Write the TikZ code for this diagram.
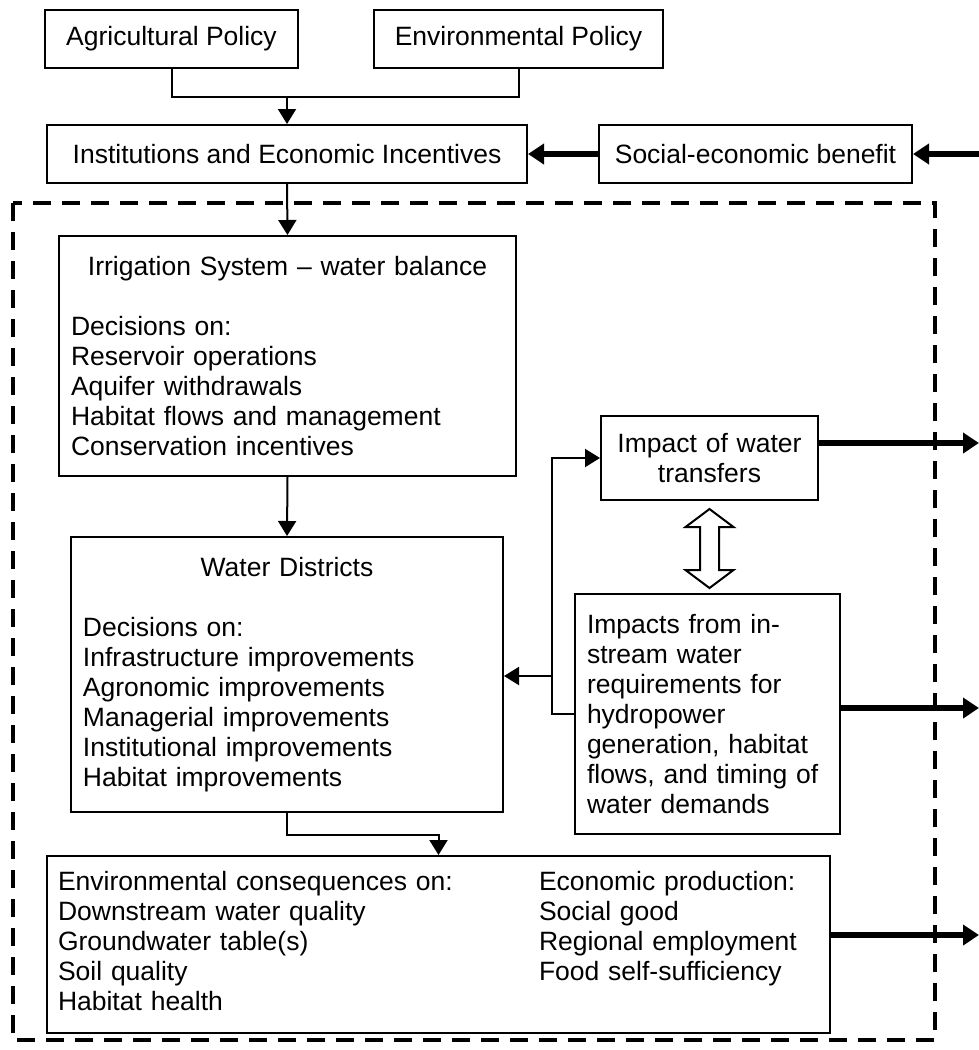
\documentclass[tikz,border=0pt]{standalone}
\usepackage{fontspec}
\setmainfont{Liberation Sans}
\usetikzlibrary{arrows.meta, calc}

\begin{document}
\begin{tikzpicture}[x=0.5pt, y=-0.5pt,
  box/.style={draw, line width=1pt, inner sep=0pt, font=\fontsize{13.25}{15}\selectfont},
  link/.style={line width=1pt, -{Triangle[length=7.5pt, width=9pt]}},
  heavy/.style={line width=3pt, -{Triangle[length=8pt, width=10pt]}}]

  \useasboundingbox (0,0) rectangle (979,1050);

  % system boundary
  \draw[line width=1.75pt, dash pattern=on 9pt off 5.5pt] (13,203) rectangle (935,1040);

  % policies and institutions
  \node[box, minimum width=126.5pt, minimum height=29pt] (agri) at (171.5,39) {Agricultural Policy};
  \node[box, minimum width=144.5pt, minimum height=29pt] (envp) at (518.5,39) {Environmental Policy};
  \node[box, minimum width=240pt, minimum height=29pt] (inst) at (287,154) {Institutions and Economic Incentives};
  \node[box, minimum width=156.5pt, minimum height=29pt] (soc) at (755.5,154) {Social-economic benefit};

  % irrigation system
  \node[box, text width=216.5pt, inner xsep=6pt, minimum height=120pt, align=left] (irr) at (287.5,356)
    {\makebox[\hsize]{Irrigation System -- water balance}\\[15pt]
     Decisions on:\\ Reservoir operations\\ Aquifer withdrawals\\
     Habitat flows and management\\ Conservation incentives};

  % water districts
  \node[box, text width=204pt, inner xsep=6pt, minimum height=137.5pt, align=left] (wd) at (287,674.5)
    {\makebox[\hsize]{Water Districts}\\[15pt]
     Decisions on:\\ Infrastructure improvements\\ Agronomic improvements\\
     Managerial improvements\\ Institutional improvements\\ Habitat improvements};

  % transfers and in-stream impacts
  \node[box, text width=96.5pt, inner xsep=6pt, minimum height=42pt, align=center] (imp) at (709.5,458)
    {Impact of water\\ transfers};
  \node[box, text width=120.5pt, inner xsep=6pt, minimum height=120pt, align=left] (ins) at (707.5,714)
    {Impacts from in-\\ stream water\\ requirements for\\ hydropower\\
     generation, habitat\\ flows, and timing of\\ water demands};

  % consequences
  \node[box, text width=380.5pt, inner xsep=5.5pt, minimum height=88.5pt, align=left] (env) at (438.5,944.5)
    {\begin{tabular}{@{}p{240.5pt}@{}l@{}}
     Environmental consequences on: & Economic production:\\
     Downstream water quality & Social good\\
     Groundwater table(s) & Regional employment\\
     Soil quality & Food self-sufficiency\\
     Habitat health & \\
     \end{tabular}};

  % policies to institutions
  \coordinate (join) at (287,97);
  \draw[line width=1pt] (agri.south) |- (join) -| (envp.south);
  \draw[link] (join) -- (inst.north);

  % benefit feedback
  \coordinate (benin) at (979,154);
  \draw[heavy] (benin) -- (soc.east);
  \draw[heavy] (soc.west) -- (inst.east);

  % main chain
  \draw[link] (inst.south) -- (irr.north);
  \draw[link] (irr.south) -- (wd.north);
  \draw[link] (wd.south) -- ++(0,22) -| (env.north);

  % in-stream loop
  \coordinate (jct) at (552,676);
  \draw[link] (ins.west) -| (jct) |- (imp.west);
  \draw[link] (jct) -- (jct -| wd.east);

  % two-way hollow arrow
  \draw[line width=1pt, fill=white, shift={(imp.south)}]
    (0,8) -- (24,26) -- (9.5,26) -- (9.5,69) -- (24,69) -- (0,87)
    -- (-24,69) -- (-9.5,69) -- (-9.5,26) -- (-24,26) -- cycle;

  % outputs leaving the system
  \coordinate (outA) at (979,443);
  \coordinate (outB) at (979,708);
  \coordinate (outC) at (979,935);
  \draw[heavy] (outA -| imp.east) -- (outA);
  \draw[heavy] (outB -| ins.east) -- (outB);
  \draw[heavy] (outC -| env.east) -- (outC);

\end{tikzpicture}
\end{document}
